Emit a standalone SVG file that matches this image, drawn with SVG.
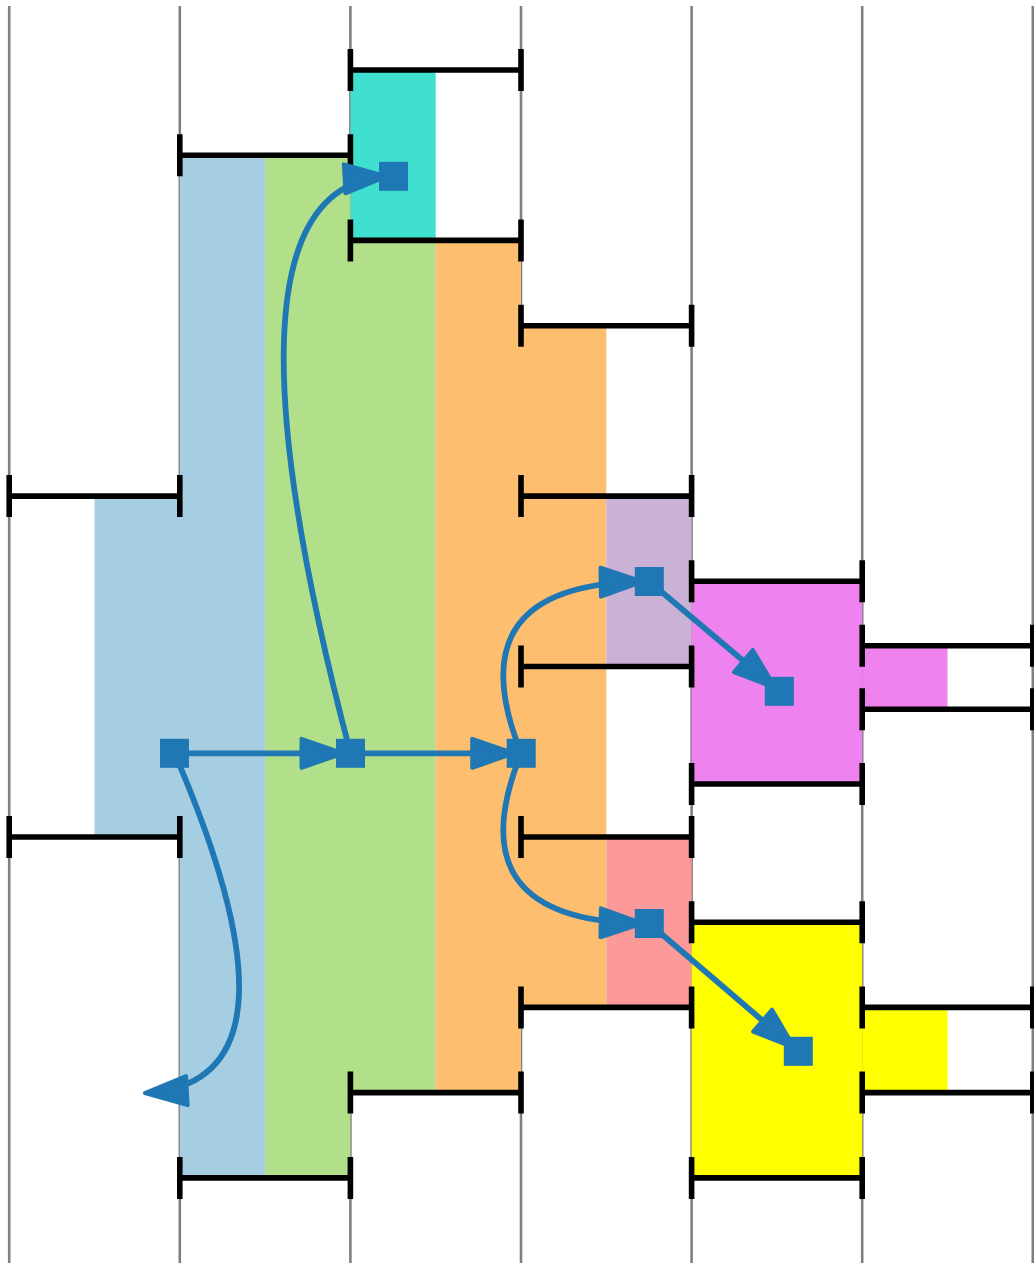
<svg xmlns="http://www.w3.org/2000/svg" xmlns:xlink="http://www.w3.org/1999/xlink" width="1034" height="1263" viewBox="0 0 1034 1263">
<style>
.grid line{stroke:#808080;stroke-width:2.6}
.bar{stroke:#000;stroke-width:5.6;fill:none}
.edge{stroke:#1f77b4;stroke-width:5.8;fill:none}
.head{fill:#1f77b4;stroke:#1f77b4;stroke-width:4;stroke-linejoin:round}
.node{fill:#1f77b4}
</style>
<defs>
<path id="ah" class="head" d="M0,0 L-42,-14.5 L-42,14.5 Z"/>
</defs>
<rect width="1034" height="1263" fill="#fff"/>
<g class="grid">
<line x1="9.2" y1="6" x2="9.2" y2="1263"/>
<line x1="179.8" y1="6" x2="179.8" y2="1263"/>
<line x1="350.4" y1="6" x2="350.4" y2="1263"/>
<line x1="521" y1="6" x2="521" y2="1263"/>
<line x1="691.6" y1="6" x2="691.6" y2="1263"/>
<line x1="862.2" y1="6" x2="862.2" y2="1263"/>
<line x1="1032.8" y1="6" x2="1032.8" y2="1263"/>
</g>
<g id="intervals">
<rect id="r-turq" x="350.4" y="70" width="85.3" height="170.4" fill="#40e0d0"/>
<path id="r-blue" d="M179.8,155.2H265.1V1177.9H179.8V837H94.5V496.1H179.8Z" fill="#a6cee3"/>
<path id="r-green" d="M265.1,155.2H350.4V240.4H435.7V1092.6H350.4V1177.9H265.1Z" fill="#b2df8a"/>
<path id="r-orange" d="M435.7,240.4H521V325.7H606.3V1007.4H521V1092.6H435.7Z" fill="#fdbf6f"/>
<rect id="r-purple" x="606.3" y="496.1" width="85.3" height="170.4" fill="#cab2d6"/>
<rect id="r-pink" x="606.3" y="837" width="85.3" height="170.4" fill="#fb9a99"/>
<rect id="r-violet1" x="691.6" y="581.3" width="170.6" height="202.7" fill="#ee82ee"/>
<rect id="r-violet2" x="862.2" y="645.7" width="85.3" height="63.6" fill="#ee82ee"/>
<rect id="r-yellow1" x="691.6" y="922.2" width="170.6" height="255.7" fill="#ffff00"/>
<rect id="r-yellow2" x="862.2" y="1007.4" width="85.3" height="85.2" fill="#ffff00"/>
</g>
<g id="bars" class="bar">
<path d="M350.4,70H521M350.4,49V91M521,49V91"/>
<path d="M179.8,155.2H350.4M179.8,134.2V176.2M350.4,134.2V176.2"/>
<path d="M350.4,240.4H521M350.4,219.4V261.4M521,219.4V261.4"/>
<path d="M521,325.7H691.6M521,304.7V346.7M691.6,304.7V346.7"/>
<path d="M9.2,496.1H179.8M9.2,475.1V517.1M179.8,475.1V517.1"/>
<path d="M521,496.1H691.6M521,475.1V517.1M691.6,475.1V517.1"/>
<path d="M691.6,581.3H862.2M691.6,560.3V602.3M862.2,560.3V602.3"/>
<path d="M862.2,645.7H1032.8M862.2,624.7V666.7M1032.8,624.7V666.7"/>
<path d="M521,666.5H691.6M521,645.5V687.5M691.6,645.5V687.5"/>
<path d="M862.2,709.3H1032.8M862.2,688.3V730.3M1032.8,688.3V730.3"/>
<path d="M691.6,784H862.2M691.6,763V805M862.2,763V805"/>
<path d="M9.2,837H179.8M9.2,816V858M179.8,816V858"/>
<path d="M521,837H691.6M521,816V858M691.6,816V858"/>
<path d="M691.6,922.2H862.2M691.6,901.2V943.2M862.2,901.2V943.2"/>
<path d="M521,1007.4H691.6M521,986.4V1028.4M691.6,986.4V1028.4"/>
<path d="M862.2,1007.4H1032.8M862.2,986.4V1028.4M1032.8,986.4V1028.4"/>
<path d="M350.4,1092.6H521M350.4,1071.6V1113.6M521,1071.6V1113.6"/>
<path d="M862.2,1092.6H1032.8M862.2,1071.6V1113.6M1032.8,1071.6V1113.6"/>
<path d="M179.8,1177.9H350.4M179.8,1156.9V1198.9M350.4,1156.9V1198.9"/>
<path d="M691.6,1177.9H862.2M691.6,1156.9V1198.9M862.2,1156.9V1198.9"/>
</g>
<g id="connectors">
<path class="edge" d="M174.5,753.3 L330,753.3"/>
<use xlink:href="#ah" href="#ah" transform="translate(343.5,753.3)"/>
<path class="edge" d="M350.5,753.3 L500,753.3"/>
<use xlink:href="#ah" href="#ah" transform="translate(514.2,753.3)"/>
<path class="edge" d="M350.5,753.3 Q207.2,210.9 371.3,178.4"/>
<use xlink:href="#ah" href="#ah" transform="translate(386.6,176.5) rotate(-3.14)"/>
<path class="edge" d="M521.2,753.3 Q456.2,591.8 626.6,582.1"/>
<use xlink:href="#ah" href="#ah" transform="translate(642.7,581.55) rotate(-0.87)"/>
<path class="edge" d="M521.2,753.3 Q456.2,913.3 626.6,922.9"/>
<use xlink:href="#ah" href="#ah" transform="translate(642.7,923.45) rotate(0.86)"/>
<path class="edge" d="M649.3,581.5 L764,678.4"/>
<use xlink:href="#ah" href="#ah" transform="translate(775.5,688.1) rotate(40.19)"/>
<path class="edge" d="M649.3,923.5 L783.1,1038.2"/>
<use xlink:href="#ah" href="#ah" transform="translate(794.5,1048) rotate(40.62)"/>
<path class="edge" d="M174.5,753.3 Q311.3,1069.8 158.4,1091.7"/>
<use xlink:href="#ah" href="#ah" transform="translate(144.9,1093) rotate(176.77)"/>
</g>
<g id="node-a"><rect class="node" x="160" y="738.8" width="29" height="29"/></g>
<g id="node-b"><rect class="node" x="336" y="738.8" width="29" height="29"/></g>
<g id="node-c"><rect class="node" x="506.7" y="738.8" width="29" height="29"/></g>
<g id="node-d"><rect class="node" x="379" y="161.8" width="29" height="29"/></g>
<g id="node-e"><rect class="node" x="634.8" y="567" width="29" height="29"/></g>
<g id="node-f"><rect class="node" x="764.8" y="676.8" width="29" height="29"/></g>
<g id="node-g"><rect class="node" x="634.8" y="909" width="29" height="29"/></g>
<g id="node-h"><rect class="node" x="783.8" y="1036.8" width="29" height="29"/></g>
</svg>
